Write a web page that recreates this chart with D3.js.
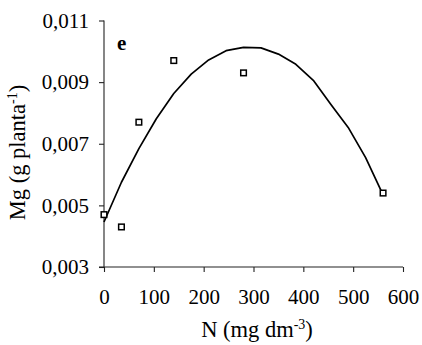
<!DOCTYPE html>
<html>
<head>
<meta charset="utf-8">
<script src="https://cdn.jsdelivr.net/npm/d3@7/dist/d3.min.js"></script>
<style>
  html, body { margin: 0; padding: 0; background: #fff; }
  svg { display: block; }
  text { font-family: "Liberation Serif", "Times New Roman", serif; fill: #000; }
</style>
</head>
<body>
<script>
// Observed Mg accumulation per plant at each N dose
const doseN = [0, 35, 70, 140, 280, 560];
const mgObserved = [0.0047, 0.0043, 0.0077, 0.0097, 0.0093, 0.0054];

// Fitted response curve, sampled along the N axis
const curveN = [0, 35, 70, 105, 140, 175, 210, 245, 280, 315, 350, 385, 420, 455, 490, 525, 560];
const curveMg = [0.00446, 0.00575, 0.00684, 0.00781, 0.00863, 0.00926, 0.00972, 0.01002, 0.01013,
                 0.01011, 0.00991, 0.00958, 0.00906, 0.00828, 0.00753, 0.00655, 0.00534];

// Axis ticks
const xTicks = [0, 100, 200, 300, 400, 500, 600];
const yTicks = [0.003, 0.005, 0.007, 0.009, 0.011];

const W = 422, H = 345;
const margin = { left: 104, right: 19, top: 20.5, bottom: 78 };
const FS = 21;     // tick labels
const TFS = 22.5;  // axis titles

const svg = d3.select("body").append("svg").attr("width", W).attr("height", H);

const x = d3.scaleLinear().domain([0, 600]).range([margin.left, W - margin.right]);
const y = d3.scaleLinear().domain([0.003, 0.011]).range([H - margin.bottom, margin.top]);

const fmt = d => d3.format(".3f")(d).replace(".", ",");

// Y axis
const yAxis = svg.append("g")
  .attr("transform", `translate(${margin.left},0)`)
  .call(d3.axisLeft(y).tickValues(yTicks).tickFormat(fmt).tickSize(5).tickPadding(10));
yAxis.select(".domain").attr("d", `M0,${y(0.011)}V${y(0.003)}`);

// X axis
const xAxis = svg.append("g")
  .attr("transform", `translate(0,${y(0.003)})`)
  .call(d3.axisBottom(x).tickValues(xTicks).tickFormat(d3.format("d")).tickSize(5).tickPadding(17));
xAxis.select(".domain").attr("d", `M${x(0) - 5},0H${x(600)}`);

svg.selectAll(".domain, .tick line").attr("stroke", "#222").attr("stroke-width", 1.1);
svg.selectAll(".tick text")
  .style("font-family", '"Liberation Serif", "Times New Roman", serif')
  .style("font-size", FS + "px").attr("fill", "#000");

// Fitted curve
const line = d3.line().x((d, i) => x(curveN[i])).y(d => y(d));
svg.append("path")
  .datum(curveMg)
  .attr("d", line)
  .attr("fill", "none")
  .attr("stroke", "#000")
  .attr("stroke-width", 1.7)
  .attr("stroke-linejoin", "round");

// Observed points: hollow squares
const s = 5.6;
svg.selectAll("rect.pt")
  .data(mgObserved)
  .join("rect")
  .attr("class", "pt")
  .attr("x", (d, i) => x(doseN[i]) - s / 2)
  .attr("y", d => y(d) - s / 2)
  .attr("width", s).attr("height", s)
  .attr("fill", "#fff")
  .attr("stroke", "#000")
  .attr("stroke-width", 1.5);

// Panel letter
svg.append("text")
  .attr("x", 117).attr("y", 50)
  .style("font-size", FS + "px").style("font-weight", "bold")
  .text("e");

// X axis title
const xt = svg.append("text")
  .attr("x", 257).attr("y", 337)
  .attr("text-anchor", "middle")
  .style("font-size", TFS + "px");
xt.append("tspan").text("N (mg dm");
xt.append("tspan").attr("dy", -8).style("font-size", "14px").text("-3");
xt.append("tspan").attr("dy", 8).text(")");

// Y axis title
const yt = svg.append("text")
  .attr("transform", `translate(25,152.5) rotate(-90)`)
  .attr("text-anchor", "middle")
  .style("font-size", TFS + "px");
yt.append("tspan").text("Mg (g planta");
yt.append("tspan").attr("dy", -8).style("font-size", "14px").text("-1");
yt.append("tspan").attr("dy", 8).text(")");
</script>
</body>
</html>
